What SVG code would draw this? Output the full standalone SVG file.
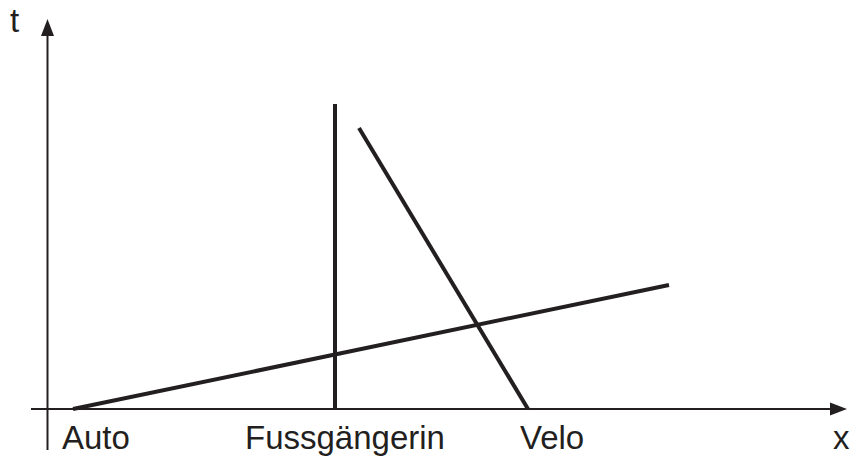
<svg xmlns="http://www.w3.org/2000/svg" width="856" height="457" viewBox="0 0 856 457">
<style>
.axis{stroke:#231f20;stroke-width:2;fill:none}
.thick{stroke:#231f20;stroke-width:4;fill:none}
.head{fill:#231f20}
.lbl{font-family:"Liberation Sans",Arial,sans-serif;font-size:33px;fill:#231f20}
</style>
<rect width="856" height="457" fill="#ffffff"/>
<g id="axes">
<line class="axis" x1="47.5" y1="450" x2="47.5" y2="34"/>
<polygon class="head" points="47.5,19 41,36 54,36"/>
<line class="axis" x1="31" y1="409" x2="832" y2="409"/>
<polygon class="head" points="847,409 830,402.5 830,415.5"/>
<text class="lbl" x="10" y="32">t</text>
<text class="lbl" x="833" y="449">x</text>
</g>
<g id="connectors">
<line id="auto-line" class="thick" x1="73" y1="409" x2="669" y2="285"/>
<line id="fuss-line" class="thick" x1="335" y1="104" x2="335" y2="409"/>
<line id="velo-line" class="thick" x1="359" y1="128" x2="528" y2="409"/>
</g>
<g id="auto"><text class="lbl" x="62" y="449">Auto</text></g>
<g id="fussgaengerin"><text class="lbl" x="245" y="449">Fussgängerin</text></g>
<g id="velo"><text class="lbl" x="520" y="449">Velo</text></g>
</svg>
